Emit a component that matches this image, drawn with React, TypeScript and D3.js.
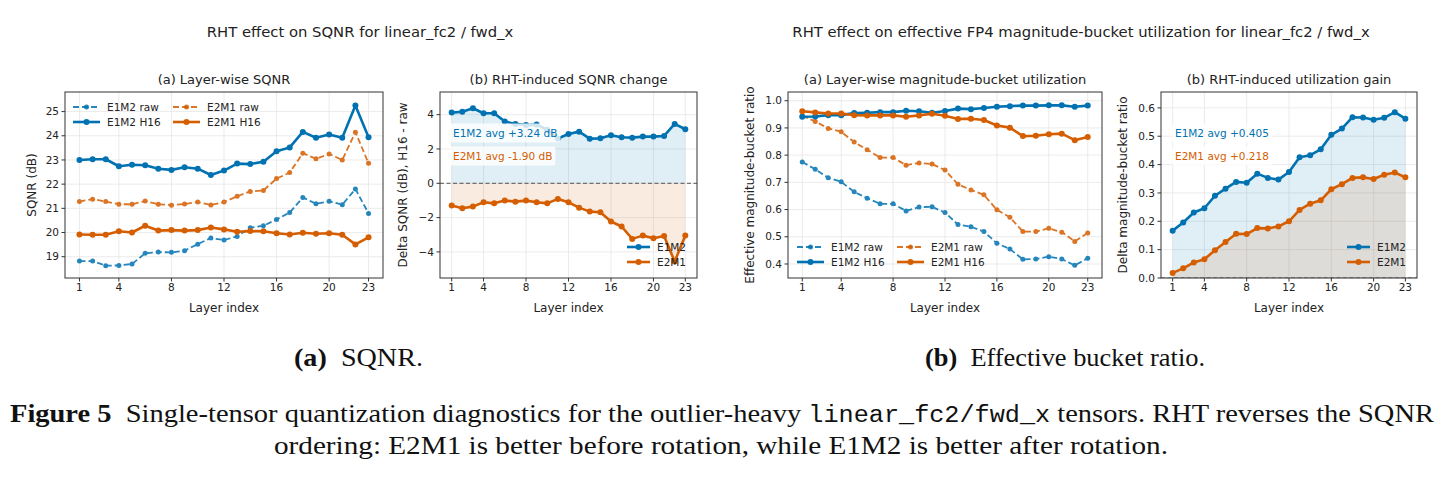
import React, { useLayoutEffect, useRef, useState } from 'react';
import * as d3 from 'd3';

const layers = [1, 2, 3, 4, 5, 6, 7, 8, 9, 10, 11, 12, 13, 14, 15, 16, 17, 18, 19, 20, 21, 22, 23];
const xTicks = [1, 4, 8, 12, 16, 20, 23];

// SQNR (dB)
const sqnrE1M2Raw = [18.82, 18.82, 18.63, 18.64, 18.7, 19.14, 19.19, 19.18, 19.25, 19.52, 19.77, 19.69, 19.84, 20.2, 20.28, 20.54, 20.83, 21.45, 21.19, 21.29, 21.15, 21.8, 20.79];
const sqnrE2M1Raw = [21.28, 21.38, 21.28, 21.17, 21.17, 21.3, 21.17, 21.13, 21.18, 21.26, 21.14, 21.26, 21.5, 21.7, 21.74, 22.23, 22.48, 23.28, 23.05, 23.25, 23.0, 24.15, 22.86];
const sqnrE1M2H16 = [23.0, 23.03, 23.03, 22.74, 22.8, 22.78, 22.64, 22.59, 22.7, 22.64, 22.38, 22.56, 22.85, 22.83, 22.93, 23.36, 23.52, 24.16, 23.92, 24.05, 23.92, 25.25, 23.94];
const sqnrE2M1H16 = [19.92, 19.91, 19.91, 20.05, 20.0, 20.28, 20.08, 20.1, 20.08, 20.1, 20.21, 20.13, 20.03, 20.06, 20.05, 19.97, 19.92, 19.99, 19.95, 19.97, 19.91, 19.51, 19.8];

// delta SQNR, H16 - raw
const dSqnrE1M2 = [4.12, 4.17, 4.37, 4.08, 4.08, 3.6, 3.46, 3.4, 3.42, 3.12, 2.61, 2.87, 3.01, 2.6, 2.62, 2.8, 2.68, 2.66, 2.72, 2.72, 2.76, 3.46, 3.15];
const dSqnrE2M1 = [-1.3, -1.46, -1.36, -1.11, -1.17, -1.01, -1.07, -1.01, -1.11, -1.17, -0.91, -1.11, -1.42, -1.65, -1.69, -2.23, -2.52, -3.24, -3.05, -3.2, -3.07, -4.56, -3.05];

// effective magnitude-bucket ratio
const bucketE1M2Raw = [0.775, 0.748, 0.717, 0.702, 0.665, 0.642, 0.621, 0.621, 0.595, 0.609, 0.61, 0.589, 0.545, 0.537, 0.519, 0.476, 0.455, 0.417, 0.418, 0.427, 0.418, 0.395, 0.421];
const bucketE2M1Raw = [0.944, 0.924, 0.898, 0.886, 0.848, 0.82, 0.791, 0.791, 0.763, 0.771, 0.767, 0.745, 0.693, 0.672, 0.654, 0.599, 0.572, 0.519, 0.519, 0.531, 0.517, 0.483, 0.514];
const bucketE1M2H16 = [0.941, 0.942, 0.947, 0.947, 0.955, 0.956, 0.958, 0.958, 0.963, 0.961, 0.956, 0.962, 0.971, 0.969, 0.973, 0.978, 0.98, 0.982, 0.982, 0.983, 0.983, 0.978, 0.982];
const bucketE2M1H16 = [0.961, 0.957, 0.953, 0.953, 0.947, 0.946, 0.946, 0.946, 0.941, 0.946, 0.952, 0.945, 0.933, 0.934, 0.929, 0.909, 0.901, 0.87, 0.871, 0.877, 0.879, 0.855, 0.867];

// delta bucket ratio
const dBucketE1M2 = [0.167, 0.196, 0.231, 0.246, 0.29, 0.315, 0.339, 0.336, 0.368, 0.353, 0.347, 0.374, 0.426, 0.433, 0.454, 0.505, 0.527, 0.567, 0.566, 0.558, 0.565, 0.585, 0.562];
const dBucketE2M1 = [0.018, 0.034, 0.055, 0.066, 0.098, 0.127, 0.156, 0.155, 0.176, 0.175, 0.182, 0.2, 0.24, 0.262, 0.274, 0.313, 0.331, 0.353, 0.355, 0.349, 0.364, 0.372, 0.355];

const BLUE = '#0072B2';
const ORANGE = '#D55E00';
const FONT = 'DejaVu Sans';
const SERIF = 'Liberation Serif';

type Series = { values: number[]; color: string; dashed?: boolean; label: string };

const Annot = ({ x, y, text, color }: { x: number; y: number; text: string; color: string }) => {
  const ref = useRef<SVGTextElement>(null);
  const [w, setW] = useState(0);
  useLayoutEffect(() => {
    if (ref.current) setW(ref.current.getComputedTextLength());
  }, [text]);
  return (
    <g>
      {w > 0 && <rect x={x - 3} y={y - 9.5} width={w + 6} height={19} rx={2} fill="white" opacity={0.8} />}
      <text ref={ref} x={x} y={y} dy="0.35em" fontSize={10.5} fill={color} fontFamily={FONT}>{text}</text>
    </g>
  );
};

const Legend = ({ items, x, y, cols, colW, len = 27 }: { items: Series[]; x: number; y: number; cols: number; colW: number; len?: number }) => (
  <g fontFamily={FONT} fontSize={10.5}>
    {items.map((s, i) => {
      const cx = x + (i % cols) * colW;
      const cy = y + Math.floor(i / cols) * 15;
      return (
        <g key={s.label}>
          <line x1={cx} x2={cx + len} y1={cy} y2={cy} stroke={s.color} strokeWidth={s.dashed ? 1.8 : 2.6}
            strokeDasharray={s.dashed ? '6,3' : undefined} opacity={s.dashed ? 0.85 : 1} />
          <circle cx={cx + len / 2} cy={cy} r={s.dashed ? 2.5 : 3} fill={s.color} opacity={s.dashed ? 0.85 : 1} />
          <text x={cx + len + 7} y={cy} dy="0.35em" fill="#222">{s.label}</text>
        </g>
      );
    })}
  </g>
);

type PanelProps = {
  left: number; right: number; top: number; bottom: number;
  yDomain: [number, number]; yTicks: number[]; yFmt: (v: number) => string;
  title: string; yLabel: string; yLabelOff: number; series: Series[]; fills?: Series[]; zeroLine?: boolean;
  children?: React.ReactNode;
};

const Panel = ({ left, right, top, bottom, yDomain, yTicks, yFmt, title, yLabel, yLabelOff, series, fills, zeroLine, children }: PanelProps) => {
  const x = d3.scaleLinear().domain([-0.1, 24.1]).range([left, right]);
  const y = d3.scaleLinear().domain(yDomain).range([bottom, top]);
  const line = d3.line<number>().x((_, i) => x(layers[i])).y(d => y(d));
  const area = d3.area<number>().x((_, i) => x(layers[i])).y0(y(0)).y1(d => y(d));
  const id = `clip-${left}`;
  return (
    <g fontFamily={FONT}>
      <defs>
        <clipPath id={id}><rect x={left} y={top} width={right - left} height={bottom - top} /></clipPath>
      </defs>
      {xTicks.map(t => (
        <line key={'gx' + t} x1={x(t)} x2={x(t)} y1={top} y2={bottom} stroke="#e6e6e6" strokeWidth={0.8} />
      ))}
      {yTicks.map(t => (
        <line key={'gy' + t} x1={left} x2={right} y1={y(t)} y2={y(t)} stroke="#e6e6e6" strokeWidth={0.8} />
      ))}
      <g clipPath={`url(#${id})`}>
        {fills && fills.map(s => (
          <path key={'f' + s.label} d={area(s.values) || ''} fill={s.color} opacity={0.12} />
        ))}
        {zeroLine && <line x1={left} x2={right} y1={y(0)} y2={y(0)} stroke="#555" strokeWidth={1} strokeDasharray="4,2.5" />}
        {series.map(s => (
          <g key={s.label} opacity={s.dashed ? 0.85 : 1}>
            <path d={line(s.values) || ''} fill="none" stroke={s.color} strokeWidth={s.dashed ? 1.8 : 2.6}
              strokeDasharray={s.dashed ? '6,3' : undefined} strokeLinejoin="round" />
            {s.values.map((v, i) => (
              <circle key={i} cx={x(layers[i])} cy={y(v)} r={s.dashed ? 2.5 : 3} fill={s.color} />
            ))}
          </g>
        ))}
      </g>
      <rect x={left} y={top} width={right - left} height={bottom - top} fill="none" stroke="#333" strokeWidth={1} />
      {xTicks.map(t => (
        <g key={'tx' + t}>
          <line x1={x(t)} x2={x(t)} y1={bottom} y2={bottom + 3.5} stroke="#333" />
          <text x={x(t)} y={bottom + 13} textAnchor="middle" fontSize={10.5} fill="#222">{t}</text>
        </g>
      ))}
      {yTicks.map(t => (
        <g key={'ty' + t}>
          <line x1={left - 3.5} x2={left} y1={y(t)} y2={y(t)} stroke="#333" />
          <text x={left - 6} y={y(t)} dy="0.35em" textAnchor="end" fontSize={10.5} fill="#222">{yFmt(t)}</text>
        </g>
      ))}
      <text x={(left + right) / 2} y={bottom + 34} textAnchor="middle" fontSize={12} fill="#222">Layer index</text>
      <text transform={`translate(${left - yLabelOff},${(top + bottom) / 2}) rotate(-90)`}
        textAnchor="middle" dy="0.35em" fontSize={12} fill="#222">{yLabel}</text>
      <text x={(left + right) / 2} y={top - 8} textAnchor="middle" fontSize={13} fill="#222">{title}</text>
      {children}
    </g>
  );
};

export default function App() {
  const int = (v: number) => d3.format('d')(v).replace('-', '\u2212');
  const dec = d3.format('.1f');
  const s1: Series[] = [
    { values: sqnrE1M2Raw, color: BLUE, dashed: true, label: 'E1M2 raw' },
    { values: sqnrE2M1Raw, color: ORANGE, dashed: true, label: 'E2M1 raw' },
    { values: sqnrE1M2H16, color: BLUE, label: 'E1M2 H16' },
    { values: sqnrE2M1H16, color: ORANGE, label: 'E2M1 H16' },
  ];
  const s2: Series[] = [
    { values: dSqnrE1M2, color: BLUE, label: 'E1M2' },
    { values: dSqnrE2M1, color: ORANGE, label: 'E2M1' },
  ];
  const s3: Series[] = [
    { values: bucketE1M2Raw, color: BLUE, dashed: true, label: 'E1M2 raw' },
    { values: bucketE2M1Raw, color: ORANGE, dashed: true, label: 'E2M1 raw' },
    { values: bucketE1M2H16, color: BLUE, label: 'E1M2 H16' },
    { values: bucketE2M1H16, color: ORANGE, label: 'E2M1 H16' },
  ];
  const s4: Series[] = [
    { values: dBucketE1M2, color: BLUE, label: 'E1M2' },
    { values: dBucketE2M1, color: ORANGE, label: 'E2M1' },
  ];
  return (
    <svg width={1442} height={485} style={{ position: 'absolute', left: 0, top: 0, background: 'white' }}>
      <text x={360} y={32} dy="0.35em" textAnchor="middle" fontSize={14.8} fontFamily={FONT} fill="#222">
        RHT effect on SQNR for linear_fc2 / fwd_x
      </text>
      <text x={1081} y={32} dy="0.35em" textAnchor="middle" fontSize={14.8} fontFamily={FONT} fill="#222">
        RHT effect on effective FP4 magnitude-bucket utilization for linear_fc2 / fwd_x
      </text>

      <Panel left={65} right={383} top={92} bottom={278} yDomain={[18.12, 25.81]} yTicks={[19, 20, 21, 22, 23, 24, 25]}
        yFmt={int} title="(a) Layer-wise SQNR" yLabel="SQNR (dB)" yLabelOff={33} series={s1}>
        <Legend items={s1} x={73} y={107} cols={2} colW={100} />
      </Panel>
      <Panel left={440} right={697} top={92} bottom={278} yDomain={[-5.52, 5.32]} yTicks={[-4, -2, 0, 2, 4]}
        yFmt={int} title="(b) RHT-induced SQNR change" yLabel="Delta SQNR (dB), H16 - raw" yLabelOff={37}
        series={s2} fills={s2} zeroLine>
        <Annot x={453} y={133} text="E1M2 avg +3.24 dB" color={BLUE} />
        <Annot x={453} y={156} text="E2M1 avg -1.90 dB" color={ORANGE} />
        <Legend items={s2} x={627} y={247} cols={1} colW={0} len={23} />
      </Panel>
      <Panel left={788} right={1102} top={92} bottom={278} yDomain={[0.3485, 1.032]} yTicks={[0.4, 0.5, 0.6, 0.7, 0.8, 0.9, 1.0]}
        yFmt={dec} title="(a) Layer-wise magnitude-bucket utilization" yLabel="Effective magnitude-bucket ratio" yLabelOff={38}
        series={s3}>
        <Legend items={s3} x={797} y={247} cols={2} colW={100} />
      </Panel>
      <Panel left={1161} right={1417} top={92} bottom={278} yDomain={[0, 0.656]} yTicks={[0, 0.1, 0.2, 0.3, 0.4, 0.5, 0.6]}
        yFmt={dec} title="(b) RHT-induced utilization gain" yLabel="Delta magnitude-bucket ratio" yLabelOff={38}
        series={s4} fills={s4} zeroLine>
        <Annot x={1175} y={133} text="E1M2 avg +0.405" color={BLUE} />
        <Annot x={1175} y={156} text="E2M1 avg +0.218" color={ORANGE} />
        <Legend items={s4} x={1347} y={247} cols={1} colW={0} len={23} />
      </Panel>

      <g fontFamily={SERIF} fill="#111" fontSize={26}>
        <text x={294} y={366} textLength={129} lengthAdjust="spacingAndGlyphs">
          <tspan fontWeight="bold">(a)</tspan>{'\u00a0 SQNR.'}
        </text>
        <text x={925} y={366} textLength={280} lengthAdjust="spacingAndGlyphs">
          <tspan fontWeight="bold">(b)</tspan>{'\u00a0 Effective bucket ratio.'}
        </text>
        <text x={10} y={422} textLength={1424} lengthAdjust="spacingAndGlyphs">
          <tspan fontWeight="bold">Figure 5</tspan>
          <tspan>{'\u00a0 Single-tensor quantization diagnostics for the outlier-heavy '}</tspan>
          <tspan fontFamily="Liberation Mono" fontSize={23}>linear_fc2/fwd_x</tspan>
          <tspan>{' tensors. RHT reverses the SQNR'}</tspan>
        </text>
        <text x={274} y={454} textLength={894} lengthAdjust="spacingAndGlyphs">
          ordering: E2M1 is better before rotation, while E1M2 is better after rotation.
        </text>
      </g>
    </svg>
  );
}
